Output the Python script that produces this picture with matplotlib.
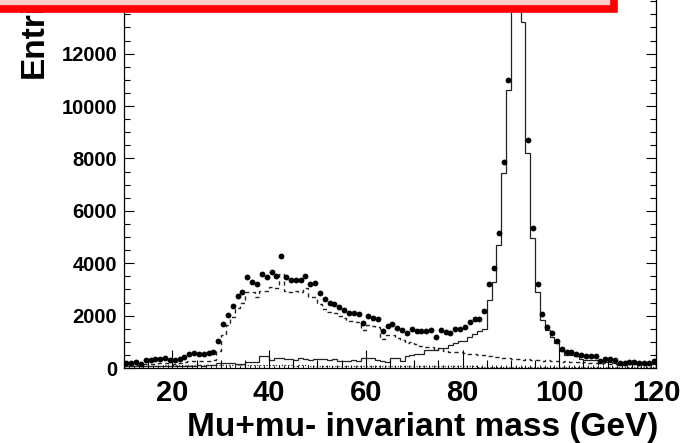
import numpy as np
import matplotlib
matplotlib.use("Agg")
import matplotlib.pyplot as plt
import matplotlib.transforms as mtransforms
from matplotlib.patches import Rectangle
from matplotlib.ticker import MultipleLocator

# ---- data (1 GeV bins from 10 to 120 GeV) ----
edges = np.arange(10, 121, 1)
centers = edges[:-1] + 0.5

data_counts = [
    180, 200, 220, 170, 300, 310, 330, 360, 380, 290,
    320, 360, 420, 520, 560, 520, 540, 560, 620, 1040,
    1680, 2020, 2370, 2750, 2910, 3460, 3300, 3190, 3590, 3490,
    3650, 3520, 4270, 3460, 3360, 3360, 3360, 3520, 3190, 3230,
    2850, 2620, 2470, 2430, 2340, 2210, 2090, 2110, 2060, 1700,
    1990, 1910, 1860, 1400, 1600, 1690, 1540, 1440, 1320, 1500,
    1400, 1400, 1400, 1440, 1170, 1440, 1360, 1320, 1480, 1480,
    1580, 1740, 1870, 1870, 2190, 3220, 3830, 5140, 7880, 10990,
    16500, 17500, 14500, 8700, 5330, 3210, 2060, 1580, 1320, 1040,
    710, 620, 610, 520, 500, 470, 460, 440, 270, 350,
    340, 320, 180, 180, 240, 210, 200, 180, 200, 270,
]

zmumu_mc = [
    60, 60, 70, 60, 70, 70, 80, 70, 80, 80,
    80, 90, 90, 80, 90, 100, 90, 100, 110, 180,
    180, 200, 200, 150, 150, 240, 240, 240, 460, 460,
    300, 400, 400, 330, 330, 300, 370, 340, 300, 330,
    330, 330, 300, 330, 260, 280, 250, 300, 280, 390,
    390, 390, 300, 250, 240, 400, 400, 250, 450, 500,
    520, 550, 700, 700, 700, 750, 750, 880, 950, 1030,
    1030, 1200, 1300, 1400, 1500, 2600, 3300, 4700, 7430, 10610,
    15500, 16500, 13200, 8200, 4960, 2900, 1830, 1450, 1200, 950,
    650, 500, 480, 450, 350, 320, 300, 300, 250, 230,
    220, 200, 180, 170, 170, 160, 150, 150, 140, 140,
]

bkg_dashed = [
    100, 110, 120, 110, 150, 150, 170, 180, 190, 160,
    170, 190, 220, 250, 270, 260, 270, 280, 300, 650,
    1250, 1650, 1950, 2300, 2500, 2900, 2900, 2700, 2950, 2950,
    3100, 3050, 3600, 2950, 2900, 2950, 2900, 3050, 2700, 2700,
    2450, 2250, 2150, 2100, 1980, 1900, 1800, 1800, 1750, 1450,
    1650, 1600, 1550, 1100, 1250, 1250, 1150, 1050, 950, 1000,
    900, 850, 820, 800, 700, 750, 650, 620, 600, 600,
    560, 550, 520, 500, 480, 450, 430, 420, 400, 380,
    350, 330, 320, 350, 300, 320, 280, 300, 270, 260,
    230, 250, 220, 230, 200, 210, 190, 200, 150, 180,
    170, 150, 120, 130, 150, 140, 130, 120, 130, 150,
]

bkg_dotted = [
    60, 70, 70, 60, 80, 80, 90, 90, 100, 90,
    100, 100, 110, 110, 110, 110, 120, 120, 120, 110,
    110, 100, 100, 100, 110, 100, 100, 110, 100, 100,
    100, 100, 100, 100, 100, 90, 100, 100, 90, 90,
    90, 90, 90, 90, 90, 80, 90, 80, 80, 90,
    80, 80, 80, 80, 80, 70, 70, 80, 70, 70,
    70, 70, 70, 60, 60, 60, 60, 60, 60, 60,
    60, 60, 60, 50, 50, 50, 50, 50, 50, 50,
    50, 50, 50, 50, 50, 50, 50, 50, 50, 50,
    50, 50, 50, 50, 50, 50, 50, 50, 50, 50,
    50, 50, 50, 50, 50, 50, 50, 50, 50, 50,
]

x_ticks = [20, 40, 60, 80, 100, 120]
y_ticks = [0, 2000, 4000, 6000, 8000, 10000, 12000]

# ---- figure ----
W, H = 688, 443
fig = plt.figure(figsize=(W / 100, H / 100), dpi=100)
fig.patch.set_facecolor("white")

x0, x1 = 124, 656
y_bot, y_top = 368, -15
ax_h = y_bot - y_top
ax = fig.add_axes([x0 / W, (H - y_bot) / H, (x1 - x0) / W, ax_h / H])
ax.set_xlim(10, 120)
ax.set_ylim(0, 14620)

ax.stairs(zmumu_mc, edges, color="#222222", lw=0.9)
ax.stairs(bkg_dashed, edges, color="#222222", lw=1.0, linestyle=(0, (3, 2.5)))
ax.stairs(bkg_dotted, edges, color="#333333", lw=0.9, linestyle=(0, (1, 1.5)))
ax.plot(centers, data_counts, "o", color="black", ms=4.2, mew=0)

# ticks
font = "Liberation Sans"
ax.set_xticks(x_ticks)
ax.xaxis.set_minor_locator(MultipleLocator(5))
ax.set_yticks(y_ticks)
ax.yaxis.set_minor_locator(MultipleLocator(500))
ax.tick_params(axis="x", which="major", direction="in", length=13, width=0.8, pad=8,
               top=False)
ax.tick_params(axis="x", which="minor", direction="in", length=6, width=0.8, top=False)
ax.tick_params(axis="y", which="major", direction="in", length=7, width=0.8, pad=5,
               right=True)
ax.tick_params(axis="y", which="minor", direction="in", length=4, width=0.8, right=True)
for lab in ax.get_xticklabels():
    lab.set_fontfamily(font); lab.set_fontweight("bold"); lab.set_fontsize(21)
for lab in ax.get_yticklabels():
    lab.set_fontfamily(font); lab.set_fontweight("bold"); lab.set_fontsize(14.5)

# 1 GeV tertiary ticks along the bottom
trans = mtransforms.blended_transform_factory(ax.transData, ax.transAxes)
small = [v for v in range(11, 120) if v % 5 != 0]
ax.vlines(small, 0, 3.0 / ax_h, transform=trans, color="black", lw=0.6)

for s in ax.spines.values():
    s.set_linewidth(0.9)

ax.set_xlabel("Mu+mu- invariant mass (GeV)", loc="right", fontsize=24,
              fontweight="bold", fontfamily=font)
ax.xaxis.set_label_coords(1.005, -44 / ax_h)
ax.set_ylabel("Entries", loc="top", fontsize=24, fontweight="bold", fontfamily=font)
ax.yaxis.set_label_coords(-0.14, 1.0 + 20 / ax_h)

# red highlight box over the top-left
rect = Rectangle((-20 / W, 1 - 9 / H), (613.5 + 20) / W, 40 / H, transform=fig.transFigure,
                 facecolor="#ffcccc", edgecolor="#ff0000", lw=5.5, zorder=10, clip_on=False)
fig.patches.append(rect)

fig.savefig("out.png", dpi=100)
